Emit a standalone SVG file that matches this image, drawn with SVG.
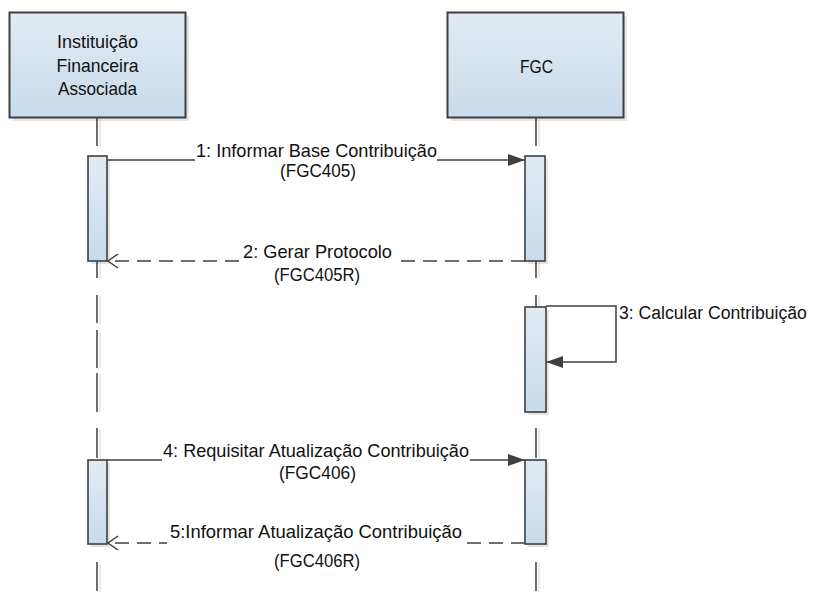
<svg xmlns="http://www.w3.org/2000/svg" width="814" height="605" viewBox="0 0 814 605">
<defs>
<linearGradient id="gBox" x1="0" y1="0" x2="0" y2="1">
<stop offset="0" stop-color="#e2ebf4"/>
<stop offset="1" stop-color="#c9dbea"/>
</linearGradient>
<marker id="aFill" markerUnits="userSpaceOnUse" markerWidth="20" markerHeight="14" refX="17" refY="6" orient="auto">
<path d="M0,0 L17,6 L0,12 Z" fill="#404040"/>
</marker>
<marker id="aOpen" markerUnits="userSpaceOnUse" markerWidth="14" markerHeight="18" refX="11" refY="8" orient="auto">
<path d="M1,1 L11,8 L1,15" fill="none" stroke="#404040" stroke-width="1.5"/>
</marker>
</defs>
<style>
.box{fill:url(#gBox);stroke:#3f3f3f;stroke-width:2}
.shadow{fill:#000;opacity:.10}
.act{fill:url(#gBox);stroke:#3f3f3f;stroke-width:1.6}
.life{stroke:#3f3f3f;stroke-width:1.5;fill:none}
.lifeSh{stroke:#000;opacity:.08;stroke-width:2;fill:none}
.msg{stroke:#404040;stroke-width:1.5;fill:none}
.ret{stroke:#404040;stroke-width:1.5;fill:none;stroke-dasharray:14 8}
.bg{fill:#fff}
text{font-family:"Liberation Sans",Arial,sans-serif;font-size:19px;fill:#111}
.c{text-anchor:middle}
.s3{font-size:17.6px}
</style>
<rect width="814" height="605" fill="#fff"/>

<g id="lifelines">
<path class="lifeSh" d="M100,119 V146 M100,262 V279 M100,296 V324 M100,331 V368 M100,374 V412 M100,429 V458 M100,563 V591 M539,119 V146 M539,262 V279 M539,296 V306 M539,429 V458 M539,563 V591"/>
<path class="life" d="M97,118 V146 M97,261 V278 M97,295 V323 M97,330 V368 M97,373 V412 M97,428 V458 M97,562 V591"/>
<path class="life" d="M536,118 V146 M536,261 V278 M536,295 V307 M536,412 V413 M536,428 V458 M536,562 V591"/>
</g>

<g id="node-instituicao">
<rect class="shadow" x="13" y="16" width="176" height="105"/>
<rect class="box" x="9.5" y="12.5" width="176" height="105"/>
<text class="c" x="97.5" y="48" textLength="81" lengthAdjust="spacingAndGlyphs">Instituição</text>
<text class="c" x="97.5" y="72" textLength="82" lengthAdjust="spacingAndGlyphs">Financeira</text>
<text class="c" x="97.5" y="95" textLength="79" lengthAdjust="spacingAndGlyphs">Associada</text>
</g>

<g id="node-fgc">
<rect class="shadow" x="451" y="16" width="176" height="105"/>
<rect class="box" x="447.5" y="12.5" width="176" height="105"/>
<text class="c" x="536.5" y="73" textLength="33" lengthAdjust="spacingAndGlyphs">FGC</text>
</g>

<g id="activations">
<rect class="shadow" x="91" y="159" width="19" height="105"/>
<rect class="act" x="88" y="156" width="19" height="105"/>
<rect class="shadow" x="528" y="159" width="20" height="105"/>
<rect class="act" x="525" y="156" width="20" height="105"/>
<rect class="shadow" x="528" y="310" width="21" height="105"/>
<rect class="act" x="525" y="307" width="21" height="105"/>
<rect class="shadow" x="91" y="463" width="19" height="84"/>
<rect class="act" x="88" y="460" width="19" height="84"/>
<rect class="shadow" x="528" y="463" width="21" height="84"/>
<rect class="act" x="525" y="460" width="21" height="84"/>
</g>

<g id="connectors">
<line class="msg" x1="107" y1="160" x2="525" y2="160" marker-end="url(#aFill)"/>
<line class="ret" x1="525" y1="261" x2="108" y2="261" marker-end="url(#aOpen)"/>
<path class="msg" d="M546,306 H616 V362 H546" marker-end="url(#aFill)"/>
<line class="msg" x1="107" y1="460" x2="525" y2="460" marker-end="url(#aFill)"/>
<line class="ret" x1="525" y1="543" x2="108" y2="543" marker-end="url(#aOpen)"/>
</g>

<g id="labels">
<rect class="bg" x="195" y="150" width="242" height="16"/>
<text class="c" x="316.5" y="157" textLength="241" lengthAdjust="spacingAndGlyphs">1: Informar Base Contribuição</text>
<text class="c" x="318" y="177" textLength="76" lengthAdjust="spacingAndGlyphs">(FGC405)</text>
<rect class="bg" x="240" y="252" width="153" height="16"/>
<text class="c" x="317.5" y="258" textLength="149" lengthAdjust="spacingAndGlyphs">2: Gerar Protocolo</text>
<text class="c" x="317" y="281" textLength="86" lengthAdjust="spacingAndGlyphs">(FGC405R)</text>
<text class="s3" x="619" y="319">3: Calcular Contribuição</text>
<rect class="bg" x="162" y="451" width="308" height="16"/>
<text class="c" x="316" y="457" textLength="306" lengthAdjust="spacingAndGlyphs">4: Requisitar Atualização Contribuição</text>
<text class="c" x="317.5" y="479" textLength="77" lengthAdjust="spacingAndGlyphs">(FGC406)</text>
<rect class="bg" x="167" y="534" width="296" height="16"/>
<text class="c" x="316" y="538" textLength="292" lengthAdjust="spacingAndGlyphs">5:Informar Atualização Contribuição</text>
<text class="c" x="317" y="567" textLength="86" lengthAdjust="spacingAndGlyphs">(FGC406R)</text>
</g>
</svg>
